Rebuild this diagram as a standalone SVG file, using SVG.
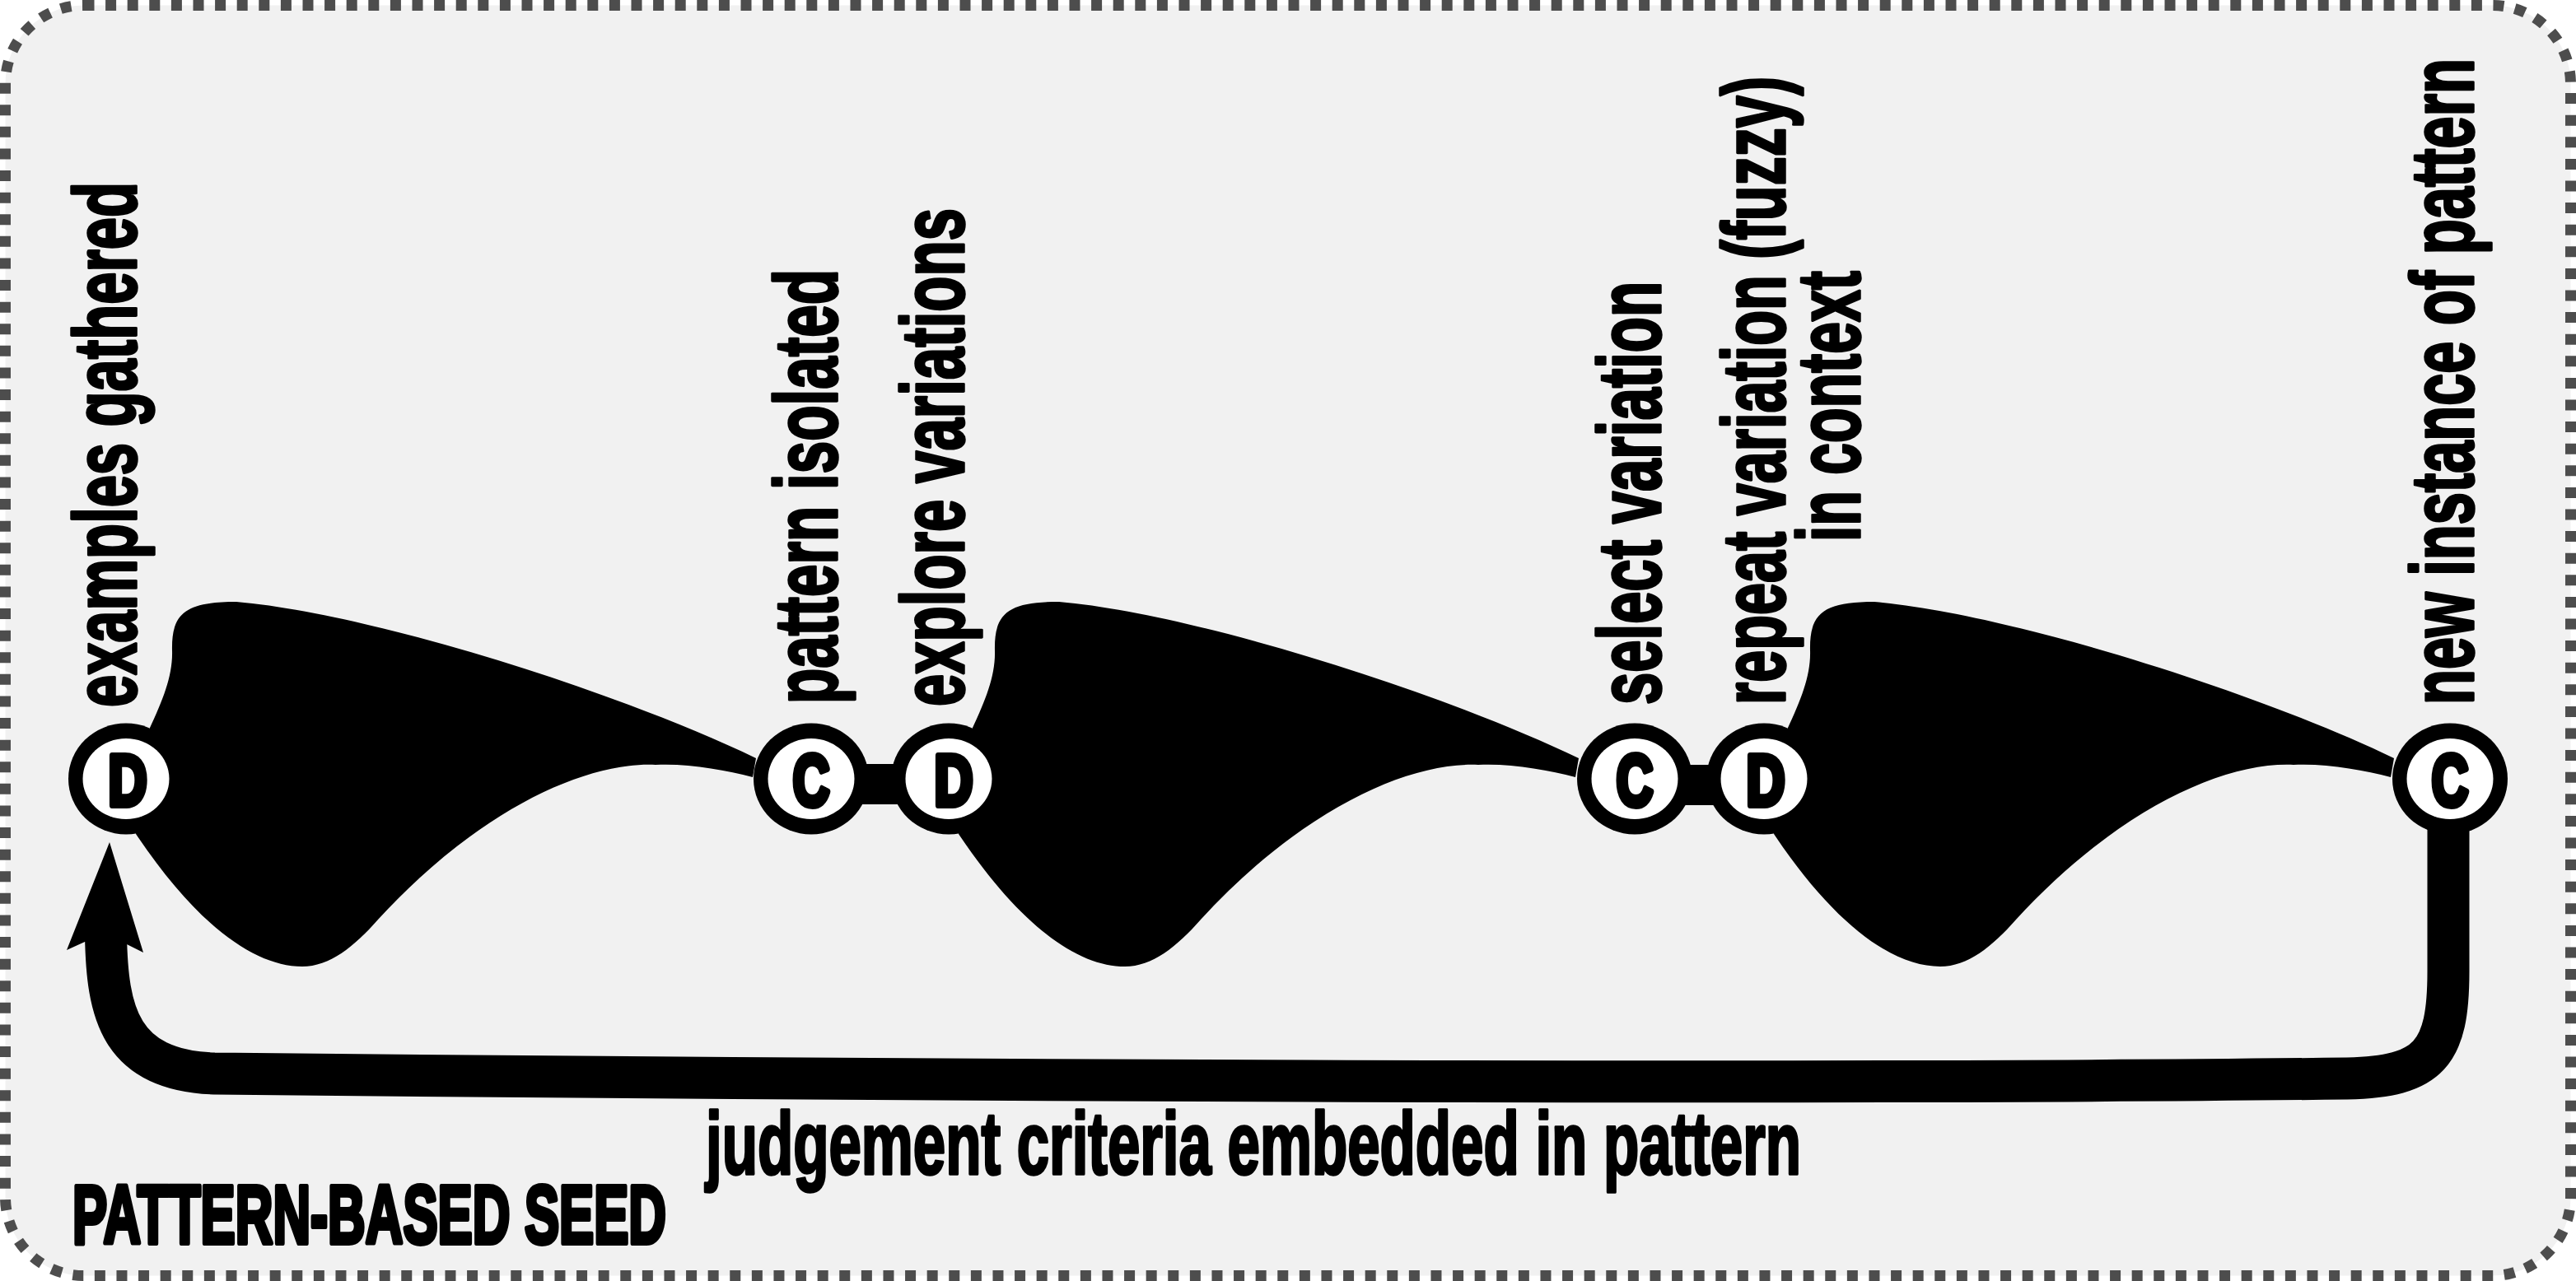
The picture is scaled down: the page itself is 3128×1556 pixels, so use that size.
<svg xmlns="http://www.w3.org/2000/svg" xmlns:xlink="http://www.w3.org/1999/xlink" width="3128" height="1556" viewBox="0 0 3128 1556">
<style>
.bg{fill:#f1f1f1;stroke:#4d4d4d;stroke-width:13;stroke-dasharray:13 13.6}
.blob{fill:#000}
.bar{fill:#000}
.loop{fill:none;stroke:#000;stroke-width:51;stroke-linejoin:round}
.ring{fill:#000}
.hole{fill:#fff}
.ltr{font-family:"Liberation Sans",Arial,sans-serif;font-weight:bold;font-size:88px;fill:#000;stroke:#000;stroke-width:8;stroke-linejoin:round;text-anchor:middle}
.lbl{font-family:"Liberation Sans",Arial,sans-serif;font-weight:bold;font-size:107px;fill:#000;stroke:#000;stroke-width:3.5;stroke-linejoin:round}
.title{font-family:"Liberation Sans",Arial,sans-serif;font-weight:bold;font-size:100px;fill:#000;stroke:#000;stroke-width:6;stroke-linejoin:round}
</style>
<defs>
<path id="blob" d="M 182 884 C 198 850 210 820 209 790 C 208 745 225 731 287 731 C 450 745 750 840 918 921 L 914 944 C 880 935 835 927 796 929 C 710 925 580 985 459 1117 C 430 1150 400 1174 367 1174 C 310 1174 240 1125 165 1013 Z"/>
</defs>
<rect class="bg" x="6.5" y="6.5" width="3115" height="1543" rx="95" ry="95"/>
<g id="connectors">
<use xlink:href="#blob" href="#blob" class="blob"/>
<use xlink:href="#blob" href="#blob" class="blob" transform="translate(999,0)"/>
<use xlink:href="#blob" href="#blob" class="blob" transform="translate(1989,0)"/>
<rect class="bar" x="1000" y="928" width="140" height="49"/>
<rect class="bar" x="2000" y="929" width="130" height="49"/>
<path class="loop" d="M 128.5 1135 C 130 1230 145 1300 260 1304 C 1000 1312 2200 1318 2850 1310 C 2950 1308 2973 1280 2973 1180 L 2973 990"/>
<polygon fill="#000" points="133,1023 174,1157 154,1147 103,1144 81,1154"/>
</g>
<g id="node-d1">
<ellipse class="ring" cx="153" cy="946" rx="70" ry="67.5"/>
<ellipse class="hole" cx="153" cy="946" rx="52.5" ry="49"/>
<text class="ltr" transform="translate(155,978) scale(0.74,1)">D</text>
</g>
<g id="node-c1">
<ellipse class="ring" cx="985" cy="946" rx="70" ry="67.5"/>
<ellipse class="hole" cx="985" cy="946" rx="52.5" ry="49"/>
<text class="ltr" transform="translate(985,978) scale(0.7,1)">C</text>
</g>
<g id="node-d2">
<ellipse class="ring" cx="1152" cy="946" rx="70" ry="67.5"/>
<ellipse class="hole" cx="1152" cy="946" rx="52.5" ry="49"/>
<text class="ltr" transform="translate(1158,978) scale(0.74,1)">D</text>
</g>
<g id="node-c2">
<ellipse class="ring" cx="1985" cy="946" rx="70" ry="67.5"/>
<ellipse class="hole" cx="1985" cy="946" rx="52.5" ry="49"/>
<text class="ltr" transform="translate(1985,978) scale(0.7,1)">C</text>
</g>
<g id="node-d3">
<ellipse class="ring" cx="2142" cy="946" rx="70" ry="67.5"/>
<ellipse class="hole" cx="2142" cy="946" rx="52.5" ry="49"/>
<text class="ltr" transform="translate(2144,978) scale(0.74,1)">D</text>
</g>
<g id="node-c3">
<ellipse class="ring" cx="2975" cy="946" rx="70" ry="67.5"/>
<ellipse class="hole" cx="2975" cy="946" rx="52.5" ry="49"/>
<text class="ltr" transform="translate(2975,978) scale(0.7,1)">C</text>
</g>
<g id="labels">
<text class="lbl" transform="translate(165,859) rotate(-90)" textLength="638" lengthAdjust="spacingAndGlyphs">examples gathered</text>
<text class="lbl" transform="translate(1016,855) rotate(-90)" textLength="528" lengthAdjust="spacingAndGlyphs">pattern isolated</text>
<text class="lbl" transform="translate(1170,858) rotate(-90)" textLength="605" lengthAdjust="spacingAndGlyphs">explore variations</text>
<text class="lbl" transform="translate(2016,856) rotate(-90)" textLength="514" lengthAdjust="spacingAndGlyphs">select variation</text>
<text class="lbl" transform="translate(2167,856) rotate(-90)" textLength="763" lengthAdjust="spacingAndGlyphs">repeat variation (fuzzy)</text>
<text class="lbl" transform="translate(2258,658) rotate(-90)" textLength="329" lengthAdjust="spacingAndGlyphs">in context</text>
<text class="lbl" transform="translate(3003,856) rotate(-90)" textLength="785" lengthAdjust="spacingAndGlyphs">new instance of pattern</text>
<text class="lbl" x="857" y="1426" textLength="1330" lengthAdjust="spacingAndGlyphs">judgement criteria embedded in pattern</text>
<text class="title" x="88" y="1510" textLength="721" lengthAdjust="spacingAndGlyphs">PATTERN-BASED SEED</text>
</g>
</svg>
